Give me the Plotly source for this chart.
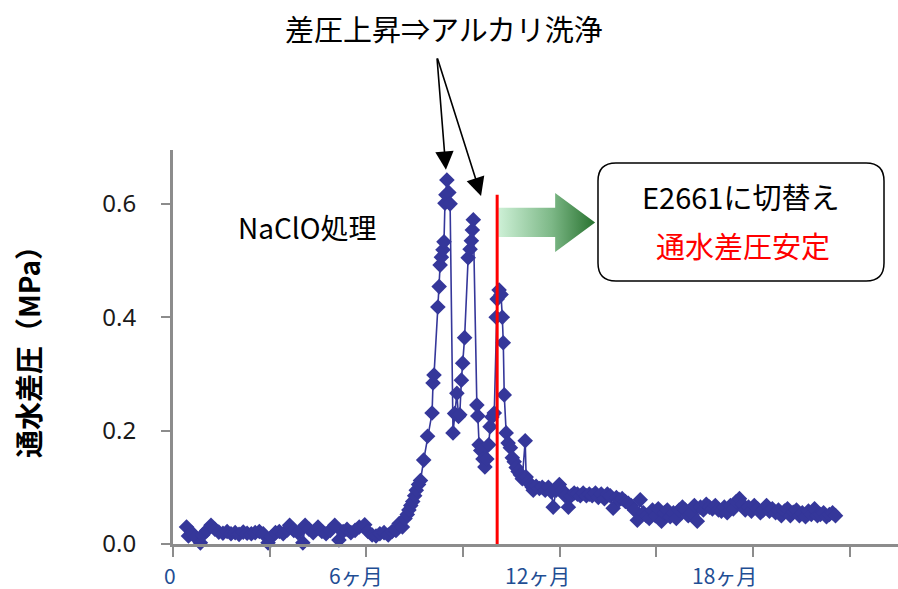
import plotly.graph_objects as go

# ---------------- data (months since start, differential pressure MPa) ----------------
months = [
    0.42, 0.48, 0.58, 0.70, 0.85, 0.92, 1.05, 1.18, 1.30, 1.42, 1.55, 1.68, 1.80, 1.93,
    2.05, 2.18, 2.30, 2.43, 2.55, 2.68, 2.80, 2.95, 3.05, 3.18, 3.30, 3.42, 3.55, 3.62,
    3.75, 3.88, 4.03, 4.10, 4.22, 4.35, 4.50, 4.62, 4.75, 4.88, 5.02, 5.15, 5.28, 5.40,
    5.52, 5.65, 5.78, 5.95, 6.05, 6.18, 6.30, 6.42, 6.55, 6.68, 6.80, 6.92,
    7.02, 7.12, 7.20, 7.27, 7.32, 7.38, 7.44, 7.50, 7.55, 7.62, 7.68, 7.78, 7.90, 8.04,
    8.07, 8.10, 8.22, 8.26, 8.29, 8.33, 8.38, 8.41, 8.44, 8.47, 8.50,
    8.56, 8.60, 8.69, 8.74, 8.81, 8.86, 8.90, 8.95, 8.99, 9.05, 9.16, 9.22, 9.26, 9.29,
    9.32, 9.43, 9.46, 9.50, 9.55, 9.62, 9.68, 9.74, 9.80, 9.84, 9.90, 9.97,
    10.03, 10.06, 10.12, 10.18, 10.22, 10.25, 10.28, 10.34, 10.40, 10.47, 10.53, 10.59,
    10.65, 10.71, 10.78, 10.84, 10.93, 10.96, 11.02, 11.09, 11.15,
    11.18, 11.27, 11.37, 11.46, 11.55, 11.65, 11.74, 11.80, 11.89, 11.99, 12.08, 12.17,
    12.27, 12.36, 12.45, 12.55, 12.64, 12.73, 12.83, 12.92, 13.01, 13.11, 13.20, 13.29,
    13.39, 13.48, 13.57, 13.66, 13.76, 13.85, 13.94, 14.04, 14.13, 14.22, 14.32, 14.41,
    14.50, 14.60, 14.69, 14.78, 14.88, 14.97, 15.06, 15.16, 15.25, 15.34, 15.43, 15.53,
    15.62, 15.71, 15.81, 15.90, 15.99, 16.09, 16.18, 16.27, 16.37, 16.46, 16.55, 16.65,
    16.74, 16.83, 16.93, 17.02, 17.11, 17.20, 17.30, 17.39, 17.48, 17.58, 17.67, 17.76,
    17.86, 17.95, 18.04, 18.14, 18.23, 18.32, 18.42, 18.51, 18.60, 18.70, 18.79, 18.88,
    18.98, 19.07, 19.16, 19.25, 19.35, 19.44, 19.53, 19.63, 19.72, 19.81, 19.91, 20.00,
    20.09, 20.19, 20.28, 20.37, 20.47, 20.56,
]
pressure_mpa = [
    0.030, 0.014, 0.020, 0.012, 0.002, 0.016, 0.024, 0.033, 0.026, 0.021, 0.019, 0.022, 0.018, 0.020,
    0.017, 0.021, 0.019, 0.018, 0.020, 0.022, 0.018, 0.002, 0.012, 0.020, 0.022, 0.018, 0.025, 0.033,
    0.024, 0.020, 0.002, 0.033, 0.026, 0.020, 0.030, 0.022, 0.018, 0.024, 0.033, 0.007, 0.022, 0.026,
    0.020, 0.024, 0.030, 0.034, 0.022, 0.016, 0.014, 0.018, 0.020, 0.016, 0.022, 0.024,
    0.036, 0.030, 0.045, 0.052, 0.060, 0.068, 0.075, 0.085, 0.095, 0.105, 0.112, 0.148, 0.190, 0.231,
    0.284, 0.298, 0.418, 0.454, 0.492, 0.506, 0.519, 0.533, 0.601, 0.616, 0.642,
    0.620, 0.600, 0.196, 0.230, 0.266, 0.225, 0.228, 0.289, 0.319, 0.364, 0.505, 0.520, 0.535, 0.554,
    0.572, 0.245, 0.226, 0.175, 0.165, 0.150, 0.136, 0.150, 0.175, 0.207, 0.224, 0.231,
    0.400, 0.432, 0.448, 0.440, 0.400, 0.355, 0.263, 0.196, 0.178, 0.170, 0.152, 0.145,
    0.135, 0.128, 0.122, 0.115, 0.182, 0.118, 0.110, 0.105, 0.100,
    0.095, 0.102, 0.098, 0.100, 0.095, 0.100, 0.092, 0.065, 0.095, 0.105, 0.095, 0.085,
    0.065, 0.085, 0.090, 0.088, 0.085, 0.090, 0.085, 0.088, 0.085, 0.090, 0.082, 0.088,
    0.080, 0.088, 0.085, 0.063, 0.082, 0.078, 0.080, 0.075, 0.072, 0.068, 0.060, 0.042,
    0.078, 0.055, 0.050, 0.045, 0.060, 0.050, 0.062, 0.040, 0.055, 0.060, 0.048, 0.055,
    0.045, 0.060, 0.065, 0.060, 0.050, 0.055, 0.068, 0.040, 0.065, 0.060, 0.070, 0.065,
    0.062, 0.068, 0.060, 0.058, 0.065, 0.055, 0.068, 0.062, 0.075, 0.080, 0.070, 0.060,
    0.065, 0.058, 0.068, 0.062, 0.055, 0.060, 0.068, 0.058, 0.062, 0.055, 0.060, 0.050,
    0.058, 0.062, 0.050, 0.056, 0.060, 0.050, 0.055, 0.048, 0.058, 0.052, 0.062, 0.050,
    0.052, 0.055, 0.048, 0.052, 0.055, 0.050,
]

tick_months = [0, 3, 6, 9, 12, 15, 18, 21]
tick_labels = ["0", "", "6ヶ月", "", "12ヶ月", "", "18ヶ月", ""]
y_ticks = [0.0, 0.2, 0.4, 0.6]
switch_month = 10.06       # change to E2661
switch_top = 0.616

title_text = "差圧上昇⇒アルカリ洗浄"
naclo_text = "NaClO処理"
box_line1 = "E2661に切替え"
box_line2 = "通水差圧安定"
y_title = "<b>通水差圧（MPa）</b>"

# ---------------- styling ----------------
FONT = "Noto Sans CJK JP"
SERIES_COLOR = "#35379a"
AXIS_COLOR = "#8c8c8c"
XLABEL_COLOR = "#1f4e94"

fig = go.Figure()

# gradient arrow (decoration)
arrow_x = [10.10, 11.86, 11.86, 13.10, 11.86, 11.86, 10.10, 10.10]
arrow_y = [0.593, 0.593, 0.619, 0.567, 0.515, 0.5415, 0.5415, 0.593]
fig.add_trace(go.Scatter(
    x=arrow_x, y=arrow_y, mode="lines", fill="toself",
    line=dict(width=0, color="rgba(0,0,0,0)"),
    fillgradient=dict(type="horizontal",
                      colorscale=[[0, "#cdf0d6"], [0.55, "#7db887"], [1, "#28722f"]]),
    hoverinfo="skip", showlegend=False,
))

fig.add_trace(go.Scatter(
    x=months, y=pressure_mpa, mode="lines+markers",
    line=dict(color=SERIES_COLOR, width=1.6),
    marker=dict(symbol="diamond", size=12, color=SERIES_COLOR),
    cliponaxis=False, showlegend=False,
))

fig.update_xaxes(
    range=[0, 22.5], tickmode="array", tickvals=tick_months, ticktext=[""] * len(tick_months),
    showticklabels=False, ticks="outside", ticklen=10, tickwidth=2, tickcolor=AXIS_COLOR,
    showline=True, linecolor=AXIS_COLOR, linewidth=3, showgrid=False, zeroline=False,
)
fig.update_yaxes(
    range=[0, 0.695], tickmode="array", tickvals=y_ticks, tickformat=".1f",
    ticks="outside", ticklen=9, tickwidth=2, tickcolor=AXIS_COLOR,
    showline=True, linecolor=AXIS_COLOR, linewidth=3, showgrid=False, zeroline=False,
    tickfont=dict(family="Noto Sans", size=24, color="#1a1a1a"),
    ticklabelstandoff=20,
)

def note(x, y, text, size, color="black", **kw):
    return dict(x=x, y=y, xref="paper", yref="paper", text=text, showarrow=False,
                xanchor="center", yanchor="middle",
                font=dict(family=FONT, size=size, color=color), **kw)

annotations = []
# x tick labels
x_shifts = {0: -3, 6: -10, 12: -22, 18: -29}
for v, t in zip(tick_months, tick_labels):
    if t:
        annotations.append(dict(
            x=v, xref="x", y=-0.079, yref="paper", text=t, showarrow=False,
            xshift=x_shifts.get(v, 0), xanchor="center", yanchor="middle",
            font=dict(family=FONT, size=21, color=XLABEL_COLOR)))

annotations += [
    note(0.374, 1.310, title_text, 29),
    note(0.186, 0.805, naclo_text, 28),
    note(0.7834, 0.883, box_line1, 29),
    note(0.786, 0.759, box_line2, 29, color="#ff0000"),
    note(-0.200, 0.505, y_title, 28, textangle=-90),
    # pointer arrows to the two peaks
    dict(x=8.47, y=0.660, xref="x", yref="y", text="", showarrow=True, ax=-9, ay=-113,
         arrowhead=2, arrowsize=2.3, arrowwidth=1.6, arrowcolor="black"),
    dict(x=9.56, y=0.614, xref="x", yref="y", text="", showarrow=True, ax=-44, ay=-139,
         arrowhead=2, arrowsize=2.3, arrowwidth=1.6, arrowcolor="black"),
]

# rounded box
x0, x1, y0, y1 = 0.5862, 0.9807, 0.6675, 0.9670
rx, ry = 0.0248, 0.0457
box_path = (f"M {x0+rx},{y1} L {x1-rx},{y1} Q {x1},{y1} {x1},{y1-ry} "
            f"L {x1},{y0+ry} Q {x1},{y0} {x1-rx},{y0} L {x0+rx},{y0} "
            f"Q {x0},{y0} {x0},{y0+ry} L {x0},{y1-ry} Q {x0},{y1} {x0+rx},{y1} Z")

shapes = [
    dict(type="line", xref="x", yref="y", x0=switch_month, x1=switch_month, y0=0, y1=switch_top,
         line=dict(color="#ff0000", width=3)),
    dict(type="path", xref="paper", yref="paper", path=box_path,
         line=dict(color="black", width=1.5), fillcolor="white"),
]

fig.update_layout(
    width=898, height=589, autosize=False,
    margin=dict(l=173, r=0, t=150, b=45),
    paper_bgcolor="white", plot_bgcolor="white",
    annotations=annotations, shapes=shapes,
    font=dict(family=FONT),
)

fig.write_html("out.html", config={"displayModeBar": False},
               post_script="document.body.style.margin='0';document.body.style.overflow='hidden';")
